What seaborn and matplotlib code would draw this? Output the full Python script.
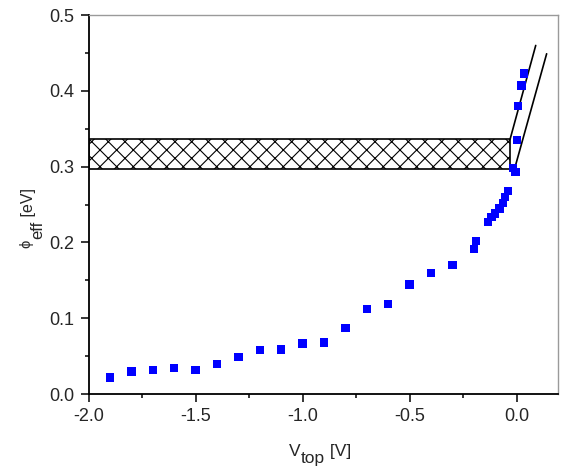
import matplotlib
matplotlib.use("Agg")
import matplotlib.pyplot as plt
import seaborn as sns
import pandas as pd
from matplotlib.ticker import MultipleLocator

# Effective barrier height versus top-gate voltage
v_top = [-1.9, -1.8, -1.7, -1.6, -1.5, -1.4, -1.3, -1.2, -1.1, -1.0,
         -0.9, -0.8, -0.7, -0.6, -0.5, -0.4, -0.3, -0.2, -0.19,
         -0.133, -0.117, -0.101, -0.081, -0.065, -0.055, -0.042,
         -0.016, -0.005, 0.003, 0.005, 0.023, 0.035]
phi_eff = [0.022, 0.0295, 0.0317, 0.0344, 0.0317, 0.0396, 0.0489, 0.0577, 0.0586, 0.0665,
           0.0678, 0.0872, 0.1123, 0.1185, 0.1445, 0.160, 0.1705, 0.191, 0.202,
           0.227, 0.234, 0.238, 0.245, 0.252, 0.260, 0.268,
           0.298, 0.293, 0.335, 0.380, 0.407, 0.423]

# Hatched band of the flat-band barrier range
band_x = [-2.0, -0.031]
band_low = [0.297, 0.297]
band_high = [0.336, 0.336]

# Two linear guide lines bounding the steep rise
guide1_x = [-0.031, 0.089]
guide1_y = [0.336, 0.460]
guide2_x = [-0.010, 0.140]
guide2_y = [0.297, 0.449]

x_ticks = [-2.0, -1.5, -1.0, -0.5, 0.0]
y_ticks = [0.0, 0.1, 0.2, 0.3, 0.4, 0.5]

# Axis titles as runs of (text, size in pt, baseline shift in px)
x_title = [("V", 12.5, 0), ("top", 12.5, -7), (" [V]", 12.5, 0)]
y_title = [("ϕ", 10.5, -3), (" ", 3.0, 0), ("eff", 12.0, 9), (" [eV]", 11.5, 0)]

sns.set_theme(style="white")
plt.rcParams["font.family"] = ["Liberation Sans", "DejaVu Sans"]
plt.rcParams["hatch.linewidth"] = 0.8

df = pd.DataFrame({"V_top": v_top, "phi_eff": phi_eff})

W, H = 561, 473
fig = plt.figure(figsize=(W / 100, H / 100), dpi=100)
ax = fig.add_axes([0.158, 0.167, 0.837, 0.801])

ax.fill_between(band_x, band_low, band_high, facecolor="white",
                edgecolor="black", hatch="xx", linewidth=1.2, zorder=1)
ax.plot(guide1_x, guide1_y, color="black", linewidth=1.2, zorder=2)
ax.plot(guide2_x, guide2_y, color="black", linewidth=1.2, zorder=2)

sns.scatterplot(data=df, x="V_top", y="phi_eff", marker="s", s=36,
                color="#0000ff", edgecolor="none", ax=ax, zorder=3)

ax.set_xlim(-2.0, 0.194)
ax.set_ylim(0.0, 0.5)
ax.set_xticks(x_ticks)
ax.set_yticks(y_ticks)
ax.set_xticklabels([f"{t:.1f}" for t in x_ticks])
ax.set_yticklabels([f"{t:.1f}" for t in y_ticks])
ax.xaxis.set_minor_locator(MultipleLocator(0.25))
ax.yaxis.set_minor_locator(MultipleLocator(0.05))
ax.tick_params(axis="both", which="major", direction="out", length=6,
               width=1.1, color="black", labelsize=13, pad=4,
               bottom=True, left=True, top=False, right=False)
ax.tick_params(axis="both", which="minor", direction="out", length=3,
               width=1.1, color="black",
               bottom=True, left=True, top=False, right=False)
ax.set_xlabel("")
ax.set_ylabel("")

for side in ("left", "bottom"):
    ax.spines[side].set_color("black")
    ax.spines[side].set_linewidth(1.3)
for side in ("top", "right"):
    ax.spines[side].set_color("#9a9a9a")
    ax.spines[side].set_linewidth(1.0)


def run_of_text(runs, center, baseline, vertical):
    """Lay out text runs end to end, centred on `center` (display px)."""
    renderer = fig.canvas.get_renderer()
    rot = 90 if vertical else 0
    items = []
    for txt, size, shift in runs:
        t = fig.text(0, 0, txt, fontsize=size, rotation=rot,
                     rotation_mode="anchor", ha="left", va="baseline",
                     transform=None)
        ext = t.get_window_extent(renderer)
        items.append((t, ext.height if vertical else ext.width, shift))
    pos = center - sum(length for _, length, _ in items) / 2
    for t, length, shift in items:
        if vertical:
            t.set_position((baseline + shift, pos))
        else:
            t.set_position((pos, baseline + shift))
        pos += length


run_of_text(x_title, center=320, baseline=H - 456, vertical=False)
run_of_text(y_title, center=H - 218, baseline=33, vertical=True)

fig.savefig("out.png", dpi=100, facecolor="white")
